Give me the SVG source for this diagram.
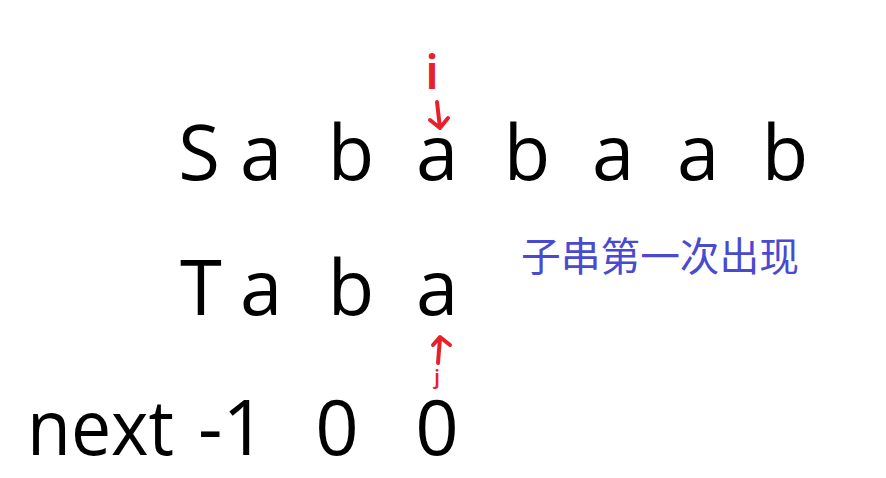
<svg xmlns="http://www.w3.org/2000/svg" width="886" height="478" viewBox="0 0 886 478">
<style>
.ch{font-family:"Open Sans","Noto Sans","Liberation Sans",sans-serif;font-size:76px;fill:#000;text-anchor:middle}
.lbl{font-family:"Open Sans","Noto Sans","Liberation Sans",sans-serif;font-size:76px;fill:#000}
.red{font-family:"Noto Sans","Liberation Sans",sans-serif;fill:#e8202a;font-weight:600;text-anchor:middle}
.cn{font-family:"Noto Sans CJK SC","Noto Sans",sans-serif;font-size:39.5px;fill:#4a4ad0}
.arr{fill:none;stroke:#e8202a;stroke-width:4;stroke-linecap:round;stroke-linejoin:round}
</style>
<rect width="886" height="478" fill="#fff"/>
<g id="rowS">
<text class="ch" x="199" y="180">S</text>
<text class="ch" x="261" y="180">a</text>
<text class="ch" x="351" y="180">b</text>
<text class="ch" x="437" y="180">a</text>
<text class="ch" x="527" y="180">b</text>
<text class="ch" x="613" y="180">a</text>
<text class="ch" x="698" y="180">a</text>
<text class="ch" x="785" y="180">b</text>
</g>
<g id="rowT">
<text class="ch" x="201" y="315">T</text>
<text class="ch" x="261" y="315">a</text>
<text class="ch" x="351" y="315">b</text>
<text class="ch" x="437" y="315">a</text>
</g>
<g id="rowNext">
<text class="lbl" x="27" y="455" textLength="147" lengthAdjust="spacingAndGlyphs">next</text>
<text class="ch" x="232" y="455">-1</text>
<text class="ch" x="337" y="455">0</text>
<text class="ch" x="437" y="455">0</text>
</g>
<g id="note">
<text class="cn" x="521" y="271" textLength="278" lengthAdjust="spacingAndGlyphs">子串第一次出现</text>
</g>
<g id="pointerI">
<text class="red" x="432" y="89" font-size="46">i</text>
</g>
<g id="pointerJ">
<text class="red" x="437" y="384" font-size="20">j</text>
</g>
<g id="connectors">
<path class="arr" d="M437,102 L440,128 M430,120 L440,128 L448,118"/>
<path class="arr" d="M438,363 L440,338 M433,345 L440,337 L450,345"/>
</g>
</svg>
